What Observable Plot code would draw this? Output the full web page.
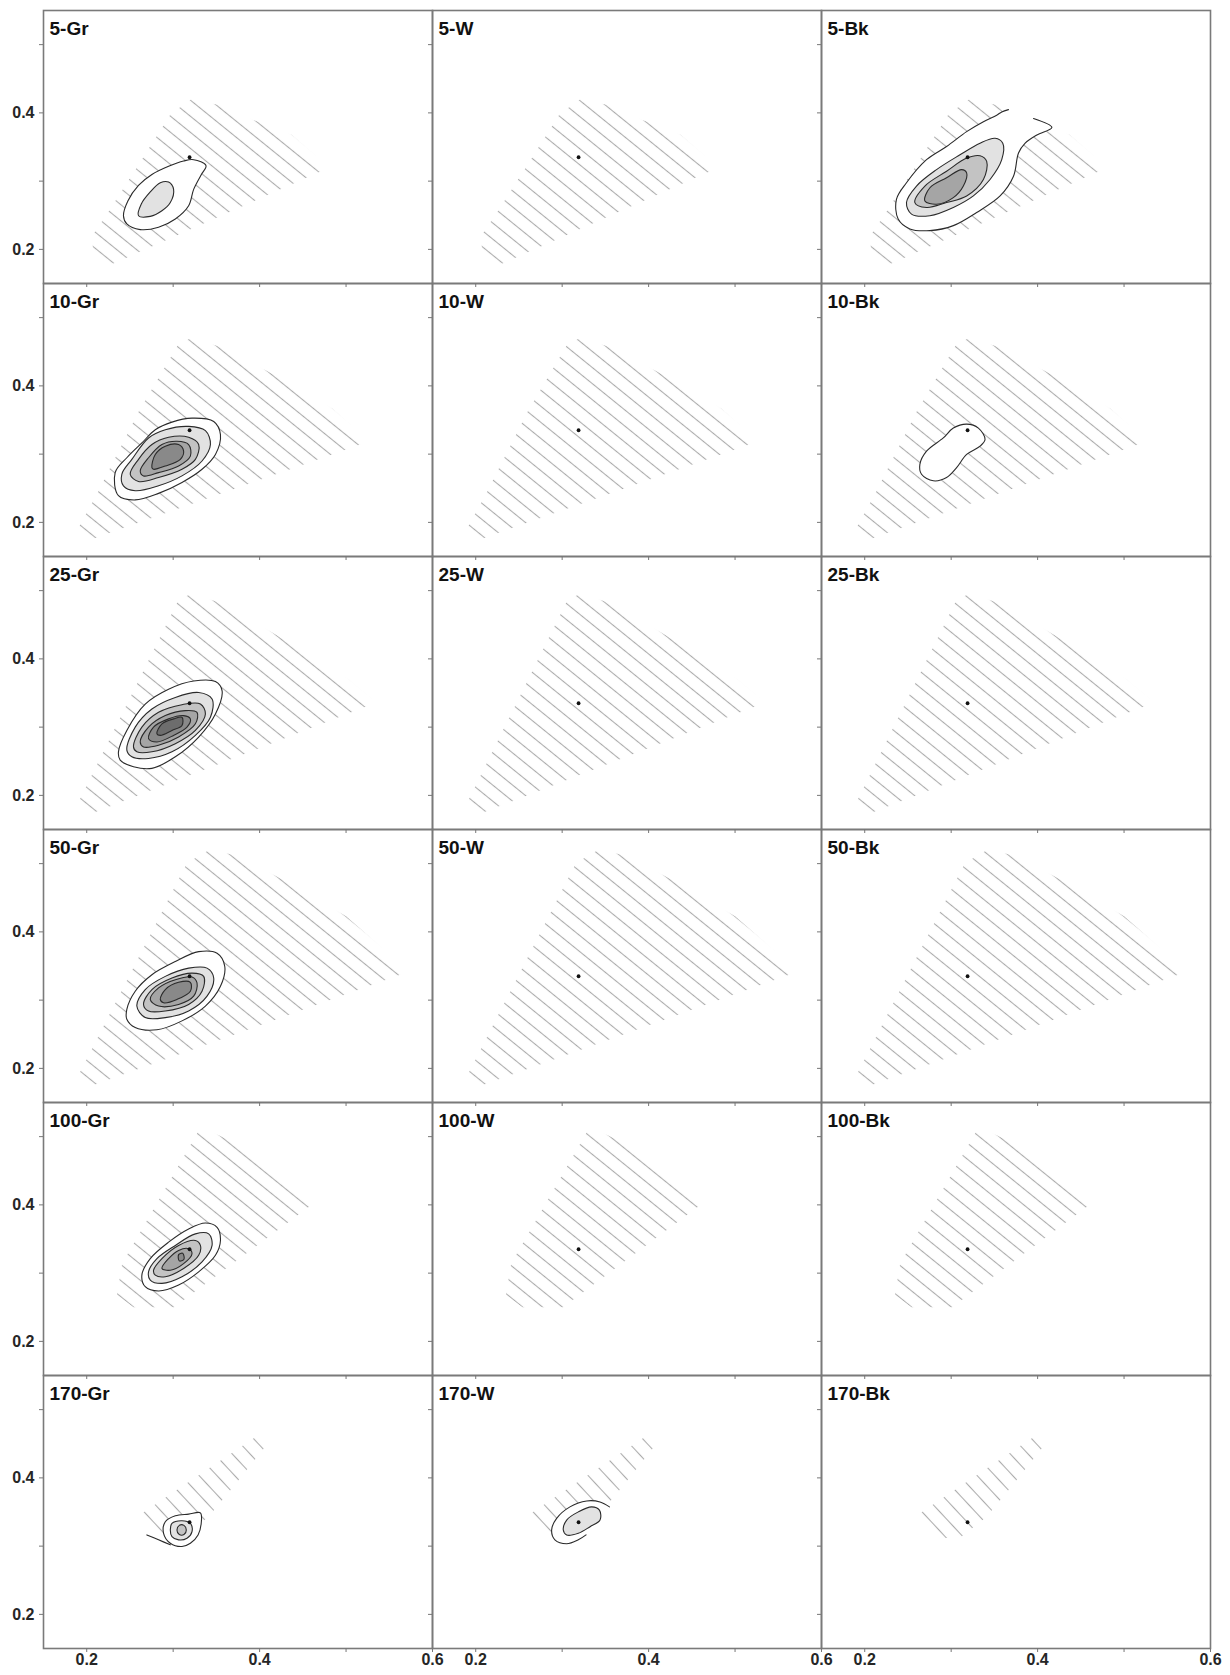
<!DOCTYPE html>
<html><head><meta charset="utf-8">
<script src="https://cdn.jsdelivr.net/npm/d3@7"></script>
<script src="https://cdn.jsdelivr.net/npm/@observablehq/plot@0.6"></script>
<style>
html,body{margin:0;padding:0;background:#fff;}
#chart svg{display:block;}
</style>
</head><body><div id="chart"></div>
<script>
// ---- categories & ticks ----
const rowLabels = ["5","10","25","50","100","170"];
const colLabels = ["Gr","W","Bk"];
const xTicks = [0.2,0.3,0.4,0.5,0.6];
const xTickLabels = [0.2,0.4,0.6];
const yTicks = [0.2,0.3,0.4,0.5];
const yTickLabels = [0.2,0.4];
const whitePoint = [0.319, 0.335];

// ---- hatched regions (per row, same in the three columns) ----
const hatch5 = [[0.207,0.197],[0.207,0.221],[0.224,0.253],[0.257,0.318],[0.297,0.398],[0.321,0.420],[0.354,0.411],[0.392,0.390],[0.437,0.368],[0.481,0.320],[0.227,0.177]];
const hatch10 = [[0.190,0.191],[0.212,0.242],[0.260,0.362],[0.306,0.461],[0.321,0.470],[0.355,0.457],[0.414,0.418],[0.484,0.367],[0.527,0.319],[0.205,0.175]];
const hatch25 = [[0.190,0.189],[0.306,0.486],[0.322,0.496],[0.361,0.479],[0.426,0.430],[0.502,0.371],[0.535,0.336],[0.205,0.173]];
const hatch50 = [[0.190,0.189],[0.316,0.501],[0.343,0.521],[0.374,0.511],[0.432,0.473],[0.500,0.423],[0.573,0.342],[0.205,0.174]];
const hatch100 = [[0.235,0.268],[0.241,0.314],[0.332,0.514],[0.378,0.487],[0.459,0.399],[0.301,0.250],[0.254,0.250]];
const hatch170 = [[0.258,0.343],[0.399,0.463],[0.411,0.453],[0.372,0.391],[0.341,0.343],[0.310,0.312],[0.283,0.312]];

// ---- contour levels per panel (level 1 = outermost) ----
const c5Gr = [
 [[0.2425,0.2493],[0.2476,0.2710],[0.2599,0.2937],[0.2754,0.3097],[0.2947,0.3217],[0.3121,0.3295],[0.3237,0.3314],[0.3380,0.3227],[0.3326,0.3097],[0.3237,0.2879],[0.3179,0.2638],[0.3025,0.2444],[0.2831,0.2324],[0.2619,0.2290],[0.2464,0.2372]],
 [[0.2599,0.2493],[0.2630,0.2662],[0.2735,0.2841],[0.2851,0.2976],[0.2947,0.2986],[0.3005,0.2879],[0.2967,0.2686],[0.2870,0.2565],[0.2735,0.2483]]
];
const c5Bk = [
 [[0.3663,0.4048],[0.3585,0.4014],[0.3527,0.3966],[0.3373,0.3870],[0.3179,0.3725],[0.2947,0.3507],[0.2715,0.3314],[0.2483,0.2976],[0.2367,0.2734],[0.2387,0.2444],[0.2522,0.2300],[0.2754,0.2275],[0.3025,0.2348],[0.3295,0.2541],[0.3566,0.2783],[0.3721,0.3072],[0.3779,0.3411],[0.3856,0.3556],[0.3991,0.3676],[0.4165,0.3787],[0.3953,0.3918]],
 [[0.2483,0.2686],[0.2599,0.2928],[0.2831,0.3169],[0.3102,0.3386],[0.3334,0.3556],[0.3508,0.3628],[0.3597,0.3556],[0.3585,0.3314],[0.3450,0.3024],[0.3257,0.2783],[0.3025,0.2614],[0.2754,0.2493],[0.2541,0.2517]],
 [[0.2580,0.2686],[0.2696,0.2928],[0.2947,0.3145],[0.3179,0.3338],[0.3334,0.3372],[0.3411,0.3290],[0.3373,0.3024],[0.3179,0.2783],[0.2947,0.2686],[0.2715,0.2614]],
 [[0.2696,0.2710],[0.2754,0.2903],[0.2947,0.3048],[0.3121,0.3169],[0.3179,0.3121],[0.3141,0.2928],[0.3025,0.2758],[0.2831,0.2662]]
];
const c10Gr = [
 [[0.2329,0.2729],[0.2464,0.2947],[0.2638,0.3164],[0.2793,0.3357],[0.2986,0.3469],[0.3218,0.3527],[0.3469,0.3478],[0.3547,0.3285],[0.3489,0.2995],[0.3334,0.2778],[0.3102,0.2585],[0.2831,0.2425],[0.2561,0.2329],[0.2367,0.2391]],
 [[0.2406,0.2705],[0.2522,0.2923],[0.2715,0.3237],[0.2909,0.3357],[0.3179,0.3406],[0.3373,0.3343],[0.3431,0.3140],[0.3334,0.2899],[0.3102,0.2681],[0.2831,0.2536],[0.2561,0.2464],[0.2425,0.2536]],
 [[0.2503,0.2705],[0.2599,0.2923],[0.2754,0.3140],[0.2947,0.3246],[0.3179,0.3246],[0.3295,0.3140],[0.3257,0.2923],[0.3102,0.2778],[0.2831,0.2657],[0.2599,0.2599]],
 [[0.2619,0.2754],[0.2715,0.2947],[0.2870,0.3140],[0.3044,0.3188],[0.3179,0.3140],[0.3199,0.2971],[0.3063,0.2826],[0.2831,0.2729],[0.2657,0.2681]],
 [[0.2754,0.2802],[0.2793,0.2995],[0.2909,0.3116],[0.3063,0.3140],[0.3121,0.3043],[0.3083,0.2923],[0.2909,0.2826],[0.2773,0.2778]]
];
const c10Bk = [
 [[0.2638,0.2850],[0.2715,0.3043],[0.2909,0.3237],[0.3025,0.3382],[0.3179,0.3440],[0.3315,0.3382],[0.3392,0.3213],[0.3334,0.3116],[0.3179,0.2995],[0.3063,0.2802],[0.2947,0.2657],[0.2793,0.2609],[0.2657,0.2705]]
];
const c25Gr = [
 [[0.2367,0.2638],[0.2464,0.2952],[0.2677,0.3338],[0.2947,0.3556],[0.3237,0.3676],[0.3489,0.3667],[0.3566,0.3531],[0.3489,0.3193],[0.3295,0.2855],[0.3025,0.2565],[0.2754,0.2396],[0.2541,0.2420],[0.2387,0.2517]],
 [[0.2464,0.2662],[0.2561,0.3000],[0.2754,0.3266],[0.3025,0.3435],[0.3295,0.3507],[0.3450,0.3411],[0.3431,0.3145],[0.3257,0.2879],[0.2986,0.2638],[0.2715,0.2541],[0.2522,0.2565]],
 [[0.2541,0.2710],[0.2638,0.3000],[0.2831,0.3217],[0.3102,0.3329],[0.3315,0.3338],[0.3373,0.3193],[0.3257,0.2952],[0.3025,0.2758],[0.2754,0.2638],[0.2580,0.2638]],
 [[0.2619,0.2783],[0.2715,0.3000],[0.2909,0.3169],[0.3141,0.3242],[0.3276,0.3217],[0.3257,0.3048],[0.3063,0.2855],[0.2831,0.2734],[0.2657,0.2710]],
 [[0.2715,0.2831],[0.2773,0.3000],[0.2947,0.3121],[0.3121,0.3169],[0.3199,0.3121],[0.3160,0.3000],[0.3005,0.2879],[0.2812,0.2783]],
 [[0.2812,0.2903],[0.2870,0.3048],[0.3005,0.3121],[0.3102,0.3145],[0.3102,0.3024],[0.2986,0.2952],[0.2851,0.2879]]
];
const c50Gr = [
 [[0.2464,0.2865],[0.2561,0.3130],[0.2754,0.3372],[0.3025,0.3565],[0.3295,0.3710],[0.3508,0.3686],[0.3597,0.3493],[0.3547,0.3203],[0.3373,0.2913],[0.3102,0.2696],[0.2812,0.2565],[0.2561,0.2599],[0.2464,0.2720]],
 [[0.2580,0.2913],[0.2677,0.3155],[0.2909,0.3348],[0.3179,0.3469],[0.3392,0.3469],[0.3469,0.3324],[0.3392,0.3058],[0.3179,0.2841],[0.2909,0.2744],[0.2677,0.2744]],
 [[0.2657,0.2937],[0.2754,0.3155],[0.2986,0.3324],[0.3218,0.3396],[0.3353,0.3348],[0.3334,0.3130],[0.3179,0.2937],[0.2909,0.2841],[0.2715,0.2841]],
 [[0.2735,0.3010],[0.2831,0.3179],[0.3025,0.3300],[0.3218,0.3338],[0.3276,0.3251],[0.3237,0.3058],[0.3063,0.2937],[0.2831,0.2913]],
 [[0.2851,0.3010],[0.2909,0.3155],[0.3063,0.3261],[0.3199,0.3261],[0.3199,0.3130],[0.3044,0.3010],[0.2889,0.2961]]
];
const c100Gr = [
 [[0.2638,0.2971],[0.2735,0.3213],[0.2947,0.3454],[0.3179,0.3647],[0.3373,0.3734],[0.3508,0.3671],[0.3547,0.3478],[0.3489,0.3261],[0.3295,0.3019],[0.3063,0.2826],[0.2831,0.2739],[0.2677,0.2802]],
 [[0.2715,0.3019],[0.2812,0.3213],[0.3025,0.3406],[0.3257,0.3575],[0.3411,0.3575],[0.3450,0.3406],[0.3334,0.3164],[0.3102,0.2947],[0.2870,0.2850],[0.2735,0.2899]],
 [[0.2773,0.3043],[0.2870,0.3213],[0.3063,0.3406],[0.3257,0.3478],[0.3315,0.3406],[0.3295,0.3261],[0.3121,0.3068],[0.2909,0.2947],[0.2793,0.2971]],
 [[0.2870,0.3068],[0.2947,0.3213],[0.3063,0.3333],[0.3179,0.3357],[0.3218,0.3285],[0.3121,0.3140],[0.2967,0.3043]],
 [[0.3063,0.3271],[0.3110,0.3290],[0.3125,0.3203],[0.3071,0.3179]]
];
const c170Gr = [
 [[0.2889,0.3188],[0.2909,0.3357],[0.3025,0.3444],[0.3179,0.3469],[0.3315,0.3488],[0.3326,0.3357],[0.3288,0.3164],[0.3199,0.3043],[0.3102,0.2995],[0.2967,0.3043]],
 [[0.2967,0.3237],[0.2986,0.3333],[0.3102,0.3372],[0.3199,0.3333],[0.3218,0.3213],[0.3160,0.3116],[0.3063,0.3092],[0.2986,0.3140]],
 [[0.3044,0.3237],[0.3071,0.3304],[0.3125,0.3304],[0.3152,0.3237],[0.3125,0.3169],[0.3071,0.3169]]
];
const tail170Gr = [[0.2696,0.3164],[0.2831,0.3092],[0.2967,0.3019]];
const c170W = [
 [[0.3547,0.3575],[0.3438,0.3647],[0.3284,0.3662],[0.3090,0.3575],[0.2936,0.3406],[0.2878,0.3237],[0.2916,0.3092],[0.3052,0.3034],[0.3187,0.3092],[0.3276,0.3164]],
 [[0.3013,0.3237],[0.3052,0.3382],[0.3187,0.3502],[0.3342,0.3575],[0.3431,0.3527],[0.3438,0.3382],[0.3323,0.3285],[0.3187,0.3188],[0.3052,0.3164]]
];
const openOutlines = ["5-Bk","170-W"];
const levelFills = ["#ffffff","#e2e2e2","#c3c3c3","#a5a5a5","#898989","#6d6d6d"];

// ---- tables built from the arrays ----
const hatchByRow = [hatch5, hatch10, hatch25, hatch50, hatch100, hatch170];
const hatchTable = rowLabels.flatMap((r, i) => colLabels.flatMap(c =>
  hatchByRow[i].map(([x, y]) => ({row: r, col: c, id: `${r}-${c}`, x, y}))));
const contourPanels = [
  ["5","Gr",c5Gr], ["5","Bk",c5Bk], ["10","Gr",c10Gr], ["10","Bk",c10Bk],
  ["25","Gr",c25Gr], ["50","Gr",c50Gr], ["100","Gr",c100Gr], ["170","Gr",c170Gr], ["170","W",c170W]
];
const contourTable = contourPanels.flatMap(([r, c, levels]) => levels.flatMap((pts, li) =>
  pts.map(([x, y]) => ({row: r, col: c, level: li + 1, id: `${r}-${c}-${li + 1}`,
    open: li === 0 && openOutlines.includes(`${r}-${c}`), x, y}))));
const tailTable = tail170Gr.map(([x, y]) => ({row: "170", col: "Gr", x, y}));
const titleTable = rowLabels.flatMap(r => colLabels.map(c => ({row: r, col: c, label: `${r}-${c}`})));

const contourMarks = levelFills.flatMap((fill, i) => {
  const L = i + 1;
  const all = contourTable.filter(d => d.level === L);
  const base = {x: "x", y: "y", z: "id", fx: "col", fy: "row"};
  return [
    Plot.line(all, {...base, fill, stroke: "none", curve: "catmull-rom-closed"}),
    Plot.line(all.filter(d => !d.open), {...base, fill: "none", stroke: "#2a2a2a", strokeWidth: 1.1, curve: "catmull-rom-closed"}),
    Plot.line(all.filter(d => d.open), {...base, fill: "none", stroke: "#2a2a2a", strokeWidth: 1.1, curve: "catmull-rom"})
  ];
});

const plot = Plot.plot({
  width: 1230, height: 1675,
  marginTop: 7, marginRight: 19, marginBottom: 25, marginLeft: 42,
  style: {fontFamily: "'Liberation Sans', Arial, sans-serif", background: "#fff", color: "#222"},
  x: {domain: [0.15, 0.6], axis: null},
  y: {domain: [0.15, 0.55], axis: null},
  fx: {domain: colLabels, padding: 0, axis: null},
  fy: {domain: rowLabels, padding: 0, axis: null},
  marks: [
    Plot.line(hatchTable.filter(d => d.row !== "170"), {x: "x", y: "y", z: "id", fx: "col", fy: "row", fill: "url(#hatchA)", stroke: "none", curve: "linear-closed"}),
    Plot.line(hatchTable.filter(d => d.row === "170"), {x: "x", y: "y", z: "id", fx: "col", fy: "row", fill: "url(#hatchB)", stroke: "none", curve: "linear-closed"}),
    ...contourMarks,
    Plot.line(tailTable, {x: "x", y: "y", fx: "col", fy: "row", stroke: "#2a2a2a", strokeWidth: 1.1, curve: "catmull-rom"}),
    Plot.dot([whitePoint], {x: d => d[0], y: d => d[1], r: 1.9, fill: "#111", stroke: "none"}),
    Plot.frame({stroke: "#7a7a7a", strokeWidth: 1.6}),
    Plot.axisX({ticks: xTicks, tickFormat: () => "", tickSize: 4, facetAnchor: null, label: null, stroke: "#777"}),
    Plot.axisY({ticks: yTicks, tickFormat: () => "", tickSize: 4, facetAnchor: null, label: null, stroke: "#777"}),
    Plot.text(xTickLabels.flatMap(v => colLabels.map(c => ({col: c, row: "170", v}))), {x: "v", fx: "col", fy: "row", text: d => d.v.toFixed(1), frameAnchor: "bottom", dy: 16, fontSize: 16, fontWeight: "bold", fill: "#262626"}),
    Plot.text(yTickLabels.flatMap(v => rowLabels.map(r => ({col: "Gr", row: r, v}))), {y: "v", fx: "col", fy: "row", text: d => d.v.toFixed(1), frameAnchor: "left", dx: -9, textAnchor: "end", fontSize: 16, fontWeight: "bold", fill: "#262626"}),
    Plot.text(titleTable, {fx: "col", fy: "row", text: "label", frameAnchor: "top-left", dx: 6, dy: 11, lineAnchor: "top", textAnchor: "start", fontSize: 19, fontWeight: "bold", fill: "#111"})
  ]
});

const defs = document.createElementNS("http://www.w3.org/2000/svg", "defs");
defs.innerHTML =
  '<pattern id="hatchA" patternUnits="userSpaceOnUse" width="12.5" height="12.5" patternTransform="rotate(39)">' +
  '<line x1="-1" y1="6.25" x2="13.5" y2="6.25" stroke="#ababab" stroke-width="1.1"/></pattern>' +
  '<pattern id="hatchB" patternUnits="userSpaceOnUse" width="13" height="13" patternTransform="rotate(47)">' +
  '<line x1="-1" y1="6.5" x2="14" y2="6.5" stroke="#ababab" stroke-width="1.1"/></pattern>';
plot.insertBefore(defs, plot.firstChild);
document.getElementById("chart").appendChild(plot);
</script>
</body></html>
